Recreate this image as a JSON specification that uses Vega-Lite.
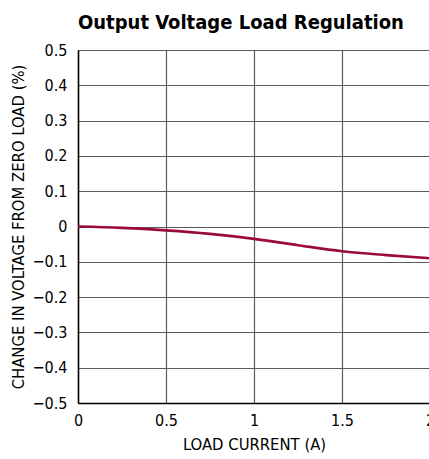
{
  "$schema": "https://vega.github.io/schema/vega-lite/v6.json",
  "width": 352,
  "height": 353,
  "autosize": {"type": "none"},
  "padding": {"left": 78, "top": 50, "right": 0, "bottom": 56},
  "background": "white",
  "title": {
    "text": "Output Voltage Load Regulation",
    "font": "DejaVu Sans Condensed, Liberation Sans, sans-serif",
    "fontSize": 20,
    "fontWeight": "bold",
    "color": "black",
    "anchor": "start",
    "frame": "group",
    "offset": 9
  },
  "config": {
    "view": {"stroke": "#333", "strokeWidth": 1},
    "axis": {
      "labelFont": "DejaVu Sans Condensed, Liberation Sans, sans-serif",
      "titleFont": "DejaVu Sans Condensed, Liberation Sans, sans-serif",
      "labelFontSize": 16,
      "titleFontSize": 16.5,
      "titleFontWeight": "normal",
      "labelColor": "black",
      "titleColor": "black",
      "gridColor": "#5a5a5a",
      "gridOpacity": 1,
      "gridWidth": 1.2,
      "domainColor": "black",
      "domainWidth": 1.5,
      "ticks": false,
      "labelOverlap": false,
      "format": "~g"
    }
  },
  "data": {
    "values": [
      {"current": 0, "change": 0},
      {"current": 0.25, "change": -0.004},
      {"current": 0.5, "change": -0.011},
      {"current": 0.75, "change": -0.021},
      {"current": 1.0, "change": -0.035},
      {"current": 1.25, "change": -0.053},
      {"current": 1.5, "change": -0.07},
      {"current": 1.75, "change": -0.081},
      {"current": 2.0, "change": -0.09}
    ]
  },
  "mark": {"type": "line", "color": "#9a0b3a", "strokeWidth": 2.6, "interpolate": "monotone"},
  "encoding": {
    "x": {
      "field": "current",
      "type": "quantitative",
      "scale": {"domain": [0, 2], "nice": false},
      "axis": {"title": "LOAD CURRENT (A)", "values": [0, 0.5, 1, 1.5, 2], "labelPadding": 9, "titlePadding": 8, "labelFlush": false}
    },
    "y": {
      "field": "change",
      "type": "quantitative",
      "scale": {"domain": [-0.5, 0.5], "nice": false},
      "axis": {"title": "CHANGE IN VOLTAGE FROM ZERO LOAD (%)", "values": [-0.5,-0.4,-0.3,-0.2,-0.1,0,0.1,0.2,0.3,0.4,0.5], "labelPadding": 11, "titlePadding": 6, "labelFlush": false}
    }
  }
}
